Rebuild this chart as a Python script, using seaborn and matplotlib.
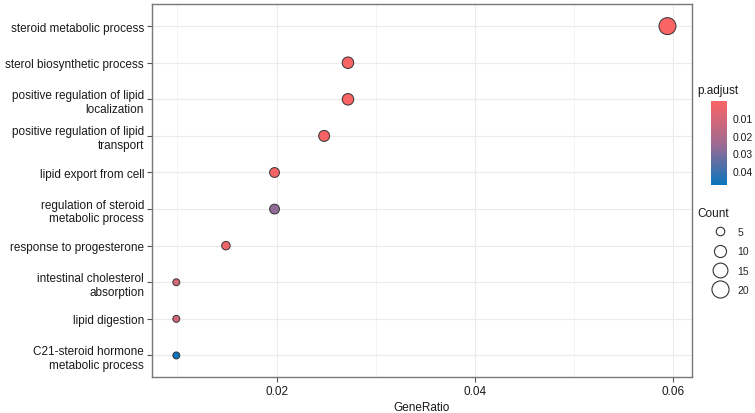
import textwrap
import numpy as np
import pandas as pd
import matplotlib
matplotlib.use("Agg")
import matplotlib.pyplot as plt
import seaborn as sns
from matplotlib.colors import LinearSegmentedColormap, Normalize
from matplotlib.cm import ScalarMappable
from matplotlib.lines import Line2D

# GO enrichment results
terms = [
    "steroid metabolic process",
    "sterol biosynthetic process",
    "positive regulation of lipid localization",
    "positive regulation of lipid transport",
    "lipid export from cell",
    "regulation of steroid metabolic process",
    "response to progesterone",
    "intestinal cholesterol absorption",
    "lipid digestion",
    "C21-steroid hormone metabolic process",
]
gene_ratio = [0.0594, 0.0272, 0.0272, 0.0248, 0.0198, 0.0198, 0.0149, 0.0099, 0.0099, 0.0099]
counts = [24, 11, 11, 10, 8, 8, 6, 4, 4, 4]
p_adjust = [0.0002, 0.0005, 0.0006, 0.0008, 0.0012, 0.027, 0.0035, 0.011, 0.011, 0.048]

count_breaks = [5, 10, 15, 20]
p_breaks = [0.01, 0.02, 0.03, 0.04]

df = pd.DataFrame({
    "term": [textwrap.fill(t, 28) for t in terms],
    "GeneRatio": gene_ratio,
    "Count": counts,
    "p.adjust": p_adjust,
})

sns.set_theme(style="white")
plt.rcParams["font.family"] = ["Liberation Sans", "DejaVu Sans"]

cmap = LinearSegmentedColormap.from_list("padj", ["#FA6464", "#A26A91", "#0A75BC"])
norm = Normalize(vmin=min(p_adjust), vmax=max(p_adjust))

fig = plt.figure(figsize=(7.55, 4.14), dpi=100)
ax = fig.add_axes([0.201, 0.086, 0.7156, 0.9015])

# area proportional to Count
size_scale = 6.25
sns.scatterplot(data=df, x="GeneRatio", y="term", hue="p.adjust", size="Count",
                palette=cmap, hue_norm=norm, sizes=(0, 24 * size_scale),
                size_norm=(0, 24), edgecolor="#333333", linewidth=0.7,
                legend=False, ax=ax, zorder=3)

ax.set_ylim(len(terms) - 0.4, -0.6)
xr = max(gene_ratio) - min(gene_ratio)
ax.set_xlim(min(gene_ratio) - 0.05 * xr, max(gene_ratio) + 0.05 * xr)
ax.set_xticks([0.02, 0.04, 0.06])
ax.set_xticklabels(["0.02", "0.04", "0.06"])
ax.set_xticks([0.01, 0.03, 0.05], minor=True)
ax.grid(True, which="major", color="#EBEBEB", linewidth=0.8)
ax.grid(True, which="minor", axis="x", color="#F3F3F3", linewidth=0.6)
ax.set_axisbelow(True)
for s in ax.spines.values():
    s.set_color("#777777")
    s.set_linewidth(1.0)
ax.tick_params(axis="both", which="major", length=3.5, width=0.8, color="#555555",
               labelsize=8.5, labelcolor="#1A1A1A", pad=2, left=True, bottom=True)
ax.tick_params(axis="x", which="minor", length=0)
ax.set_xlabel("GeneRatio", fontsize=8.5, color="#1A1A1A", labelpad=3)
ax.set_ylabel("")

# colour bar legend (small p.adjust on top, as in ggplot)
cax = fig.add_axes([711 / 755, 1 - 186 / 414, 16 / 755, 84 / 414])
cb = fig.colorbar(ScalarMappable(norm=norm, cmap=cmap), cax=cax)
cb.outline.set_visible(False)
cax.invert_yaxis()
cb.set_ticks(p_breaks)
cb.set_ticklabels([f"{b:.2f}" for b in p_breaks])
cax.tick_params(length=3, width=0.6, color="white", direction="in", labelsize=7.5,
                labelcolor="#1A1A1A", pad=4, left=True, right=True)
fig.text(697 / 755, 1 - 91 / 414, "p.adjust", fontsize=8.5, color="#1A1A1A", va="center")

# size legend
fig.text(697 / 755, 1 - 214 / 414, "Count", fontsize=8.5, color="#1A1A1A", va="center")
handles = [Line2D([], [], marker="o", linestyle="", markerfacecolor="white",
                  markeredgecolor="#333333", markeredgewidth=0.8,
                  markersize=np.sqrt(c * size_scale) * 1.1) for c in count_breaks]
leg = fig.legend(handles, [str(c) for c in count_breaks],
                 loc="upper left", bbox_to_anchor=(708 / 755, 1 - 228 / 414),
                 frameon=False, fontsize=7.5, labelspacing=0.9,
                 handletextpad=0.5, handlelength=2.3, borderaxespad=0, borderpad=0)

fig.savefig("out.png", dpi=100)
